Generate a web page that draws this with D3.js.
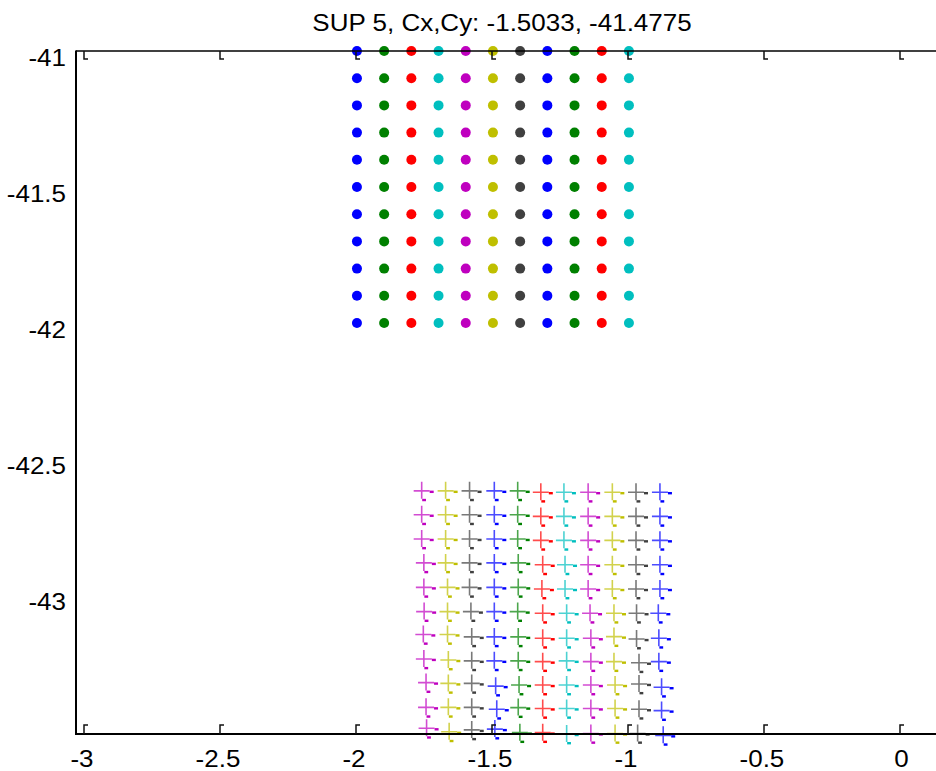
<!DOCTYPE html>
<html>
<head>
<meta charset="utf-8">
<script src="https://cdn.jsdelivr.net/npm/d3@7/dist/d3.min.js"></script>
<style>
  html, body { margin: 0; padding: 0; background: #fff; }
  svg { display: block; }
  text { font-family: "Liberation Sans", Arial, sans-serif; fill: #000; }
</style>
</head>
<body>
<svg id="chart" width="936" height="771"></svg>
<script>
// ---- data ----
const titleText = "SUP 5, Cx,Cy: -1.5033, -41.4775";

const xTicks = [-3, -2.5, -2, -1.5, -1, -0.5, 0];
const yTicks = [-41, -41.5, -42, -42.5, -43];
const xTickLabels = ["-3", "-2.5", "-2", "-1.5", "-1", "-0.5", "0"];
const yTickLabels = ["-41", "-41.5", "-42", "-42.5", "-43"];

// reference grid (filled dots)
const dotX = [-2, -1.9, -1.8, -1.7, -1.6, -1.5, -1.4, -1.3, -1.2, -1.1, -1];
const dotY = [-41, -41.1, -41.2, -41.3, -41.4, -41.5, -41.6, -41.7, -41.8, -41.9, -42];

// measured grid (plus markers), one array per row
const plusX = [
  [-1.762, -1.674, -1.586, -1.495, -1.409, -1.324, -1.239, -1.150, -1.061, -0.974, -0.886],
  [-1.762, -1.674, -1.586, -1.495, -1.409, -1.324, -1.239, -1.150, -1.061, -0.974, -0.886],
  [-1.762, -1.674, -1.586, -1.495, -1.409, -1.324, -1.239, -1.150, -1.061, -0.974, -0.886],
  [-1.754, -1.674, -1.586, -1.495, -1.407, -1.317, -1.235, -1.150, -1.061, -0.974, -0.886],
  [-1.754, -1.667, -1.586, -1.495, -1.407, -1.320, -1.235, -1.150, -1.061, -0.974, -0.886],
  [-1.753, -1.667, -1.581, -1.495, -1.409, -1.317, -1.229, -1.143, -1.055, -0.972, -0.892],
  [-1.756, -1.667, -1.578, -1.495, -1.407, -1.317, -1.229, -1.140, -1.055, -0.972, -0.890],
  [-1.754, -1.664, -1.578, -1.495, -1.407, -1.317, -1.229, -1.140, -1.055, -0.963, -0.890],
  [-1.746, -1.664, -1.578, -1.490, -1.404, -1.317, -1.229, -1.140, -1.051, -0.963, -0.880],
  [-1.746, -1.664, -1.578, -1.486, -1.407, -1.317, -1.229, -1.140, -1.051, -0.963, -0.880],
  [-1.744, -1.661, -1.578, -1.493, -1.401, -1.317, -1.229, -1.140, -1.051, -0.968, -0.874]
];
const plusY = [
  [-42.617, -42.617, -42.617, -42.617, -42.617, -42.622, -42.622, -42.622, -42.622, -42.622, -42.622],
  [-42.705, -42.705, -42.705, -42.705, -42.705, -42.711, -42.711, -42.711, -42.711, -42.711, -42.711],
  [-42.794, -42.794, -42.794, -42.794, -42.794, -42.799, -42.799, -42.799, -42.799, -42.799, -42.799],
  [-42.882, -42.882, -42.882, -42.882, -42.882, -42.889, -42.889, -42.889, -42.889, -42.889, -42.889],
  [-42.972, -42.972, -42.972, -42.972, -42.972, -42.978, -42.978, -42.978, -42.978, -42.978, -42.978],
  [-43.061, -43.061, -43.061, -43.061, -43.061, -43.067, -43.067, -43.067, -43.067, -43.067, -43.067],
  [-43.145, -43.145, -43.154, -43.154, -43.154, -43.159, -43.159, -43.159, -43.153, -43.162, -43.159],
  [-43.235, -43.239, -43.242, -43.242, -43.242, -43.245, -43.242, -43.245, -43.245, -43.249, -43.245],
  [-43.322, -43.325, -43.325, -43.335, -43.331, -43.331, -43.331, -43.331, -43.331, -43.327, -43.339],
  [-43.413, -43.413, -43.413, -43.420, -43.414, -43.417, -43.417, -43.417, -43.417, -43.420, -43.425],
  [-43.490, -43.503, -43.496, -43.493, -43.506, -43.506, -43.511, -43.509, -43.509, -43.509, -43.516]
];

// plot colour cycle (b g r c m y k)
const colorCycle = ["#0000ff", "#008000", "#ff0000", "#00bfbf", "#bf00bf", "#bfbf00", "#404040"];

// ---- layout ----
const svg = d3.select("#chart");
const plotLeft = 76, plotRight = 936, plotTop = 51, plotBottom = 734;
const xDomain = [-3.033, 0.129];
const yDomain = [-43.511, -41];
const textStretch = 1.13;

const x = d3.scaleLinear().domain(xDomain).range([plotLeft, plotRight]);
const y = d3.scaleLinear().domain(yDomain).range([plotBottom, plotTop]);

// title
svg.append("text")
  .attr("transform", `translate(502,31) scale(${textStretch},1)`)
  .attr("text-anchor", "middle")
  .style("font-size", "23px")
  .text(titleText);

// filled dots
const dots = [];
dotY.forEach(yv => dotX.forEach((xv, ci) => dots.push({ x: xv, y: yv, c: colorCycle[ci % 7] })));
svg.append("g").selectAll("circle").data(dots).join("circle")
  .attr("cx", d => x(d.x)).attr("cy", d => y(d.y)).attr("r", 5)
  .attr("fill", d => d.c);

// plus markers
const pluses = [];
plusX.forEach((row, ri) => row.forEach((xv, ci) =>
  pluses.push({ x: xv, y: plusY[ri][ci], c: colorCycle[(ci + dotX.length) % 7] })));
const pg = svg.append("g").selectAll("g").data(pluses).join("g")
  .attr("transform", d => `translate(${x(d.x)},${y(d.y)})`);
pg.append("path")
  .attr("d", "M-8,0H8M0,-9V8")
  .attr("stroke", d => d.c).attr("stroke-width", 1.6).attr("stroke-opacity", 0.7).attr("fill", "none");
pg.append("rect").attr("x", 8).attr("y", -0.2).attr("width", 4).attr("height", 2.4).attr("fill", d => d.c);
pg.append("rect").attr("x", 0.5).attr("y", 8).attr("width", 3.8).attr("height", 2.4).attr("fill", d => d.c);

// axes labels (tick lines are drawn separately)
const xAxis = d3.axisBottom(x).tickValues(xTicks).tickSize(0)
  .tickFormat((d, i) => xTickLabels[i]);
const gx = svg.append("g").attr("transform", `translate(0,${plotBottom})`).call(xAxis);
gx.select(".domain").remove();
gx.selectAll("text")
  .attr("y", 33).attr("dy", null)
  .attr("transform", `scale(${textStretch},1)`)
  .attr("dx", d => d < 0 ? -3.5 / textStretch : 0)
  .style("font-size", "23px").style("font-family", "'Liberation Sans', Arial, sans-serif");

const yAxis = d3.axisLeft(y).tickValues(yTicks).tickSize(0)
  .tickFormat((d, i) => yTickLabels[i]);
const gy = svg.append("g").attr("transform", `translate(${plotLeft},0)`).call(yAxis);
gy.select(".domain").remove();
gy.selectAll("text")
  .attr("x", -10 / textStretch).attr("dy", null).attr("y", 14)
  .attr("transform", `scale(${textStretch},1)`)
  .style("font-size", "23px").style("font-family", "'Liberation Sans', Arial, sans-serif");

// frame: left, top and bottom edges (drawn over the markers)
const frame = svg.append("g").attr("stroke", "#000").attr("fill", "none");
frame.append("line").attr("x1", plotLeft).attr("x2", plotLeft).attr("y1", plotTop - 0.5).attr("y2", plotBottom + 1).attr("stroke-width", 2);
frame.append("line").attr("x1", plotLeft).attr("x2", plotRight).attr("y1", plotTop).attr("y2", plotTop).attr("stroke-width", 1.5);
frame.append("line").attr("x1", plotLeft).attr("x2", plotRight).attr("y1", plotBottom).attr("y2", plotBottom).attr("stroke-width", 2);

// tick marks: bottom edge and top edge
const tickG = svg.append("g").attr("stroke", "#111").attr("fill", "none").attr("stroke-width", 1.5);
tickG.selectAll("path.tb").data(xTicks).join("path").attr("class", "tb")
  .attr("d", d => { const px = Math.round(x(d)) - 1; return `M${px},${plotBottom}V${plotBottom - 9}H${px + 4}`; });
tickG.selectAll("path.tt").data(xTicks).join("path").attr("class", "tt")
  .attr("d", d => { const px = Math.round(x(d)) - 1; return `M${px},${plotTop}V${plotTop + 8}H${px + 4}`; });
</script>
</body>
</html>
